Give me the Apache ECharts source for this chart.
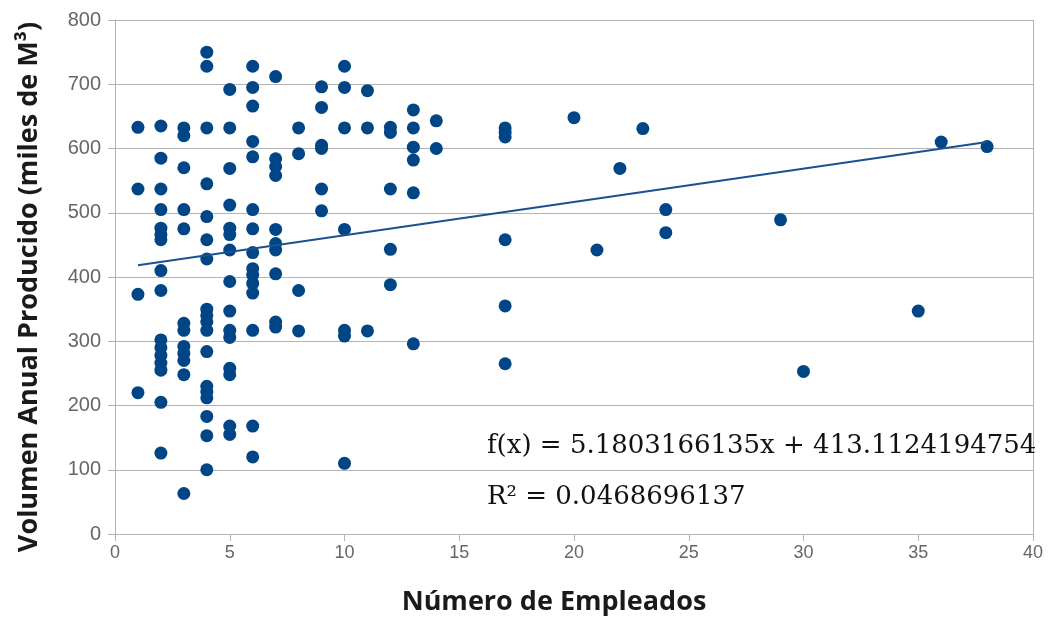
<!DOCTYPE html>
<html>
<head>
<meta charset="utf-8">
<script src="https://cdn.jsdelivr.net/npm/echarts@6/dist/echarts.min.js"></script>
<style>
  html, body { margin: 0; padding: 0; background: #fff; }
  #chart { width: 1051px; height: 617px; }
</style>
</head>
<body>
<div id="chart"></div>
<script>
// Employees per firm (x) and annual volume produced in thousands of m³ (y)
const empleados = [
  1, 1, 1, 1,
  2, 2, 2, 2, 2, 2, 2, 2, 2, 2, 2, 2, 2, 2, 2, 2,
  3, 3, 3, 3, 3, 3, 3, 3, 3, 3, 3, 3,
  4, 4, 4, 4, 4, 4, 4, 4, 4, 4, 4, 4, 4, 4, 4, 4, 4, 4,
  5, 5, 5, 5, 5, 5, 5, 5, 5, 5, 5, 5, 5, 5, 5,
  6, 6, 6, 6, 6, 6, 6, 6, 6, 6, 6, 6, 6, 6, 6,
  7, 7, 7, 7, 7, 7, 7, 7, 7, 7,
  8, 8, 8, 8,
  9, 9, 9, 9, 9, 9,
  10, 10, 10, 10, 10, 10, 10,
  11, 11, 11,
  12, 12, 12, 12, 12,
  13, 13, 13, 13, 13, 13,
  14, 14,
  17, 17, 17, 17, 17, 17,
  20, 21, 22, 23, 24, 24, 29, 30, 35, 36, 38
];
const volumen = [
  633, 537, 373, 220,
  635, 585, 537, 505, 476, 466, 458, 410, 379, 302, 290, 278, 266, 255, 205, 126,
  632, 620, 570, 505, 475, 328, 317, 292, 281, 270, 248, 63,
  750, 728, 632, 545, 494, 458, 428, 350, 340, 330, 317, 284, 230, 221, 212, 183, 153, 100,
  692, 632, 569, 512, 476, 466, 442, 393, 347, 317, 306, 258, 248, 168, 155,
  728, 695, 666, 611, 587, 505, 475, 438, 413, 403, 390, 375, 317, 168, 120,
  712, 584, 572, 558, 474, 452, 442, 405, 330, 322,
  632, 592, 379, 316,
  696, 664, 605, 600, 537, 503,
  728, 695, 632, 474, 317, 308, 110,
  690, 632, 316,
  633, 625, 537, 443, 388,
  660, 632, 602, 582, 531, 296,
  643, 600,
  632, 625, 618, 458, 355, 265,
  648, 442, 569, 631, 505, 469, 489, 253, 347, 610, 603
];

// Linear trend line and its fit statistics
const pendiente = 5.1803166135;
const intercepto = 413.1124194754;
const r2 = 0.0468696137;

const xTicks = [0, 5, 10, 15, 20, 25, 30, 35, 40];
const yTicks = [0, 100, 200, 300, 400, 500, 600, 700, 800];

const puntos = empleados.map((e, i) => [e, volumen[i]]);
const xMinData = Math.min(...empleados);
const xMaxData = Math.max(...empleados);
const tendencia = [
  [xMinData, pendiente * xMinData + intercepto],
  [xMaxData, pendiente * xMaxData + intercepto]
];

const azul = '#004586';
const gris = '#b3b3b3';

const chart = echarts.init(document.getElementById('chart'), null, { renderer: 'canvas' });
chart.setOption({
  animation: false,
  backgroundColor: '#ffffff',
  grid: {
    left: 115, right: 18, top: 20, bottom: 83,
    containLabel: false,
    outerBoundsMode: 'none'
  },
  xAxis: {
    type: 'value',
    min: xTicks[0],
    max: xTicks[xTicks.length - 1],
    interval: 5,
    name: 'Número de Empleados',
    nameLocation: 'middle',
    nameGap: 55,
    nameTextStyle: {
      fontFamily: 'Open Sans', fontWeight: 'bold', fontSize: 27, color: '#1a1a1a',
      padding: [0, 40, 0, 0]
    },
    axisLine: { show: true, lineStyle: { color: gris, width: 1 } },
    axisTick: { show: true, length: 7, lineStyle: { color: gris } },
    axisLabel: { fontFamily: 'Liberation Sans', fontSize: 18, color: '#666', margin: 10 },
    splitLine: { show: false }
  },
  yAxis: {
    type: 'value',
    min: yTicks[0],
    max: yTicks[yTicks.length - 1],
    interval: 100,
    name: 'Volumen Anual Producido (miles de M³)',
    nameLocation: 'middle',
    nameGap: 72,
    nameTextStyle: {
      fontFamily: 'Open Sans', fontWeight: 'bold', fontSize: 27, color: '#1a1a1a',
      padding: [0, 20, 0, 0]
    },
    axisLine: { show: true, lineStyle: { color: gris, width: 1 } },
    axisTick: { show: true, length: 7, lineStyle: { color: gris } },
    axisLabel: { fontFamily: 'Liberation Sans', fontSize: 20, color: '#666', margin: 14 },
    splitLine: { show: true, lineStyle: { color: gris, width: 1 } }
  },
  series: [
    {
      type: 'scatter',
      data: puntos,
      symbol: 'circle',
      symbolSize: 13,
      itemStyle: { color: azul, opacity: 1 },
      markLine: {
        silent: true,
        symbol: 'none',
        label: { show: false },
        lineStyle: { color: gris, type: 'solid', width: 1 },
        data: [{ xAxis: xTicks[xTicks.length - 1] }]
      },
      z: 3
    },
    {
      type: 'line',
      data: tendencia,
      symbol: 'none',
      lineStyle: { color: '#1b5190', width: 2 },
      z: 4
    }
  ],
  graphic: [
    {
      type: 'text',
      left: 487,
      top: 433,
      style: {
        text: 'f(x) = ' + pendiente.toFixed(10) + 'x + ' + intercepto.toFixed(10),
        font: '26px "DejaVu Serif"',
        fill: '#111'
      },
      z: 10
    },
    {
      type: 'text',
      left: 487,
      top: 484,
      style: {
        text: 'R² = ' + r2.toFixed(10),
        font: '26px "DejaVu Serif"',
        fill: '#111'
      },
      z: 10
    }
  ]
});
</script>
</body>
</html>
